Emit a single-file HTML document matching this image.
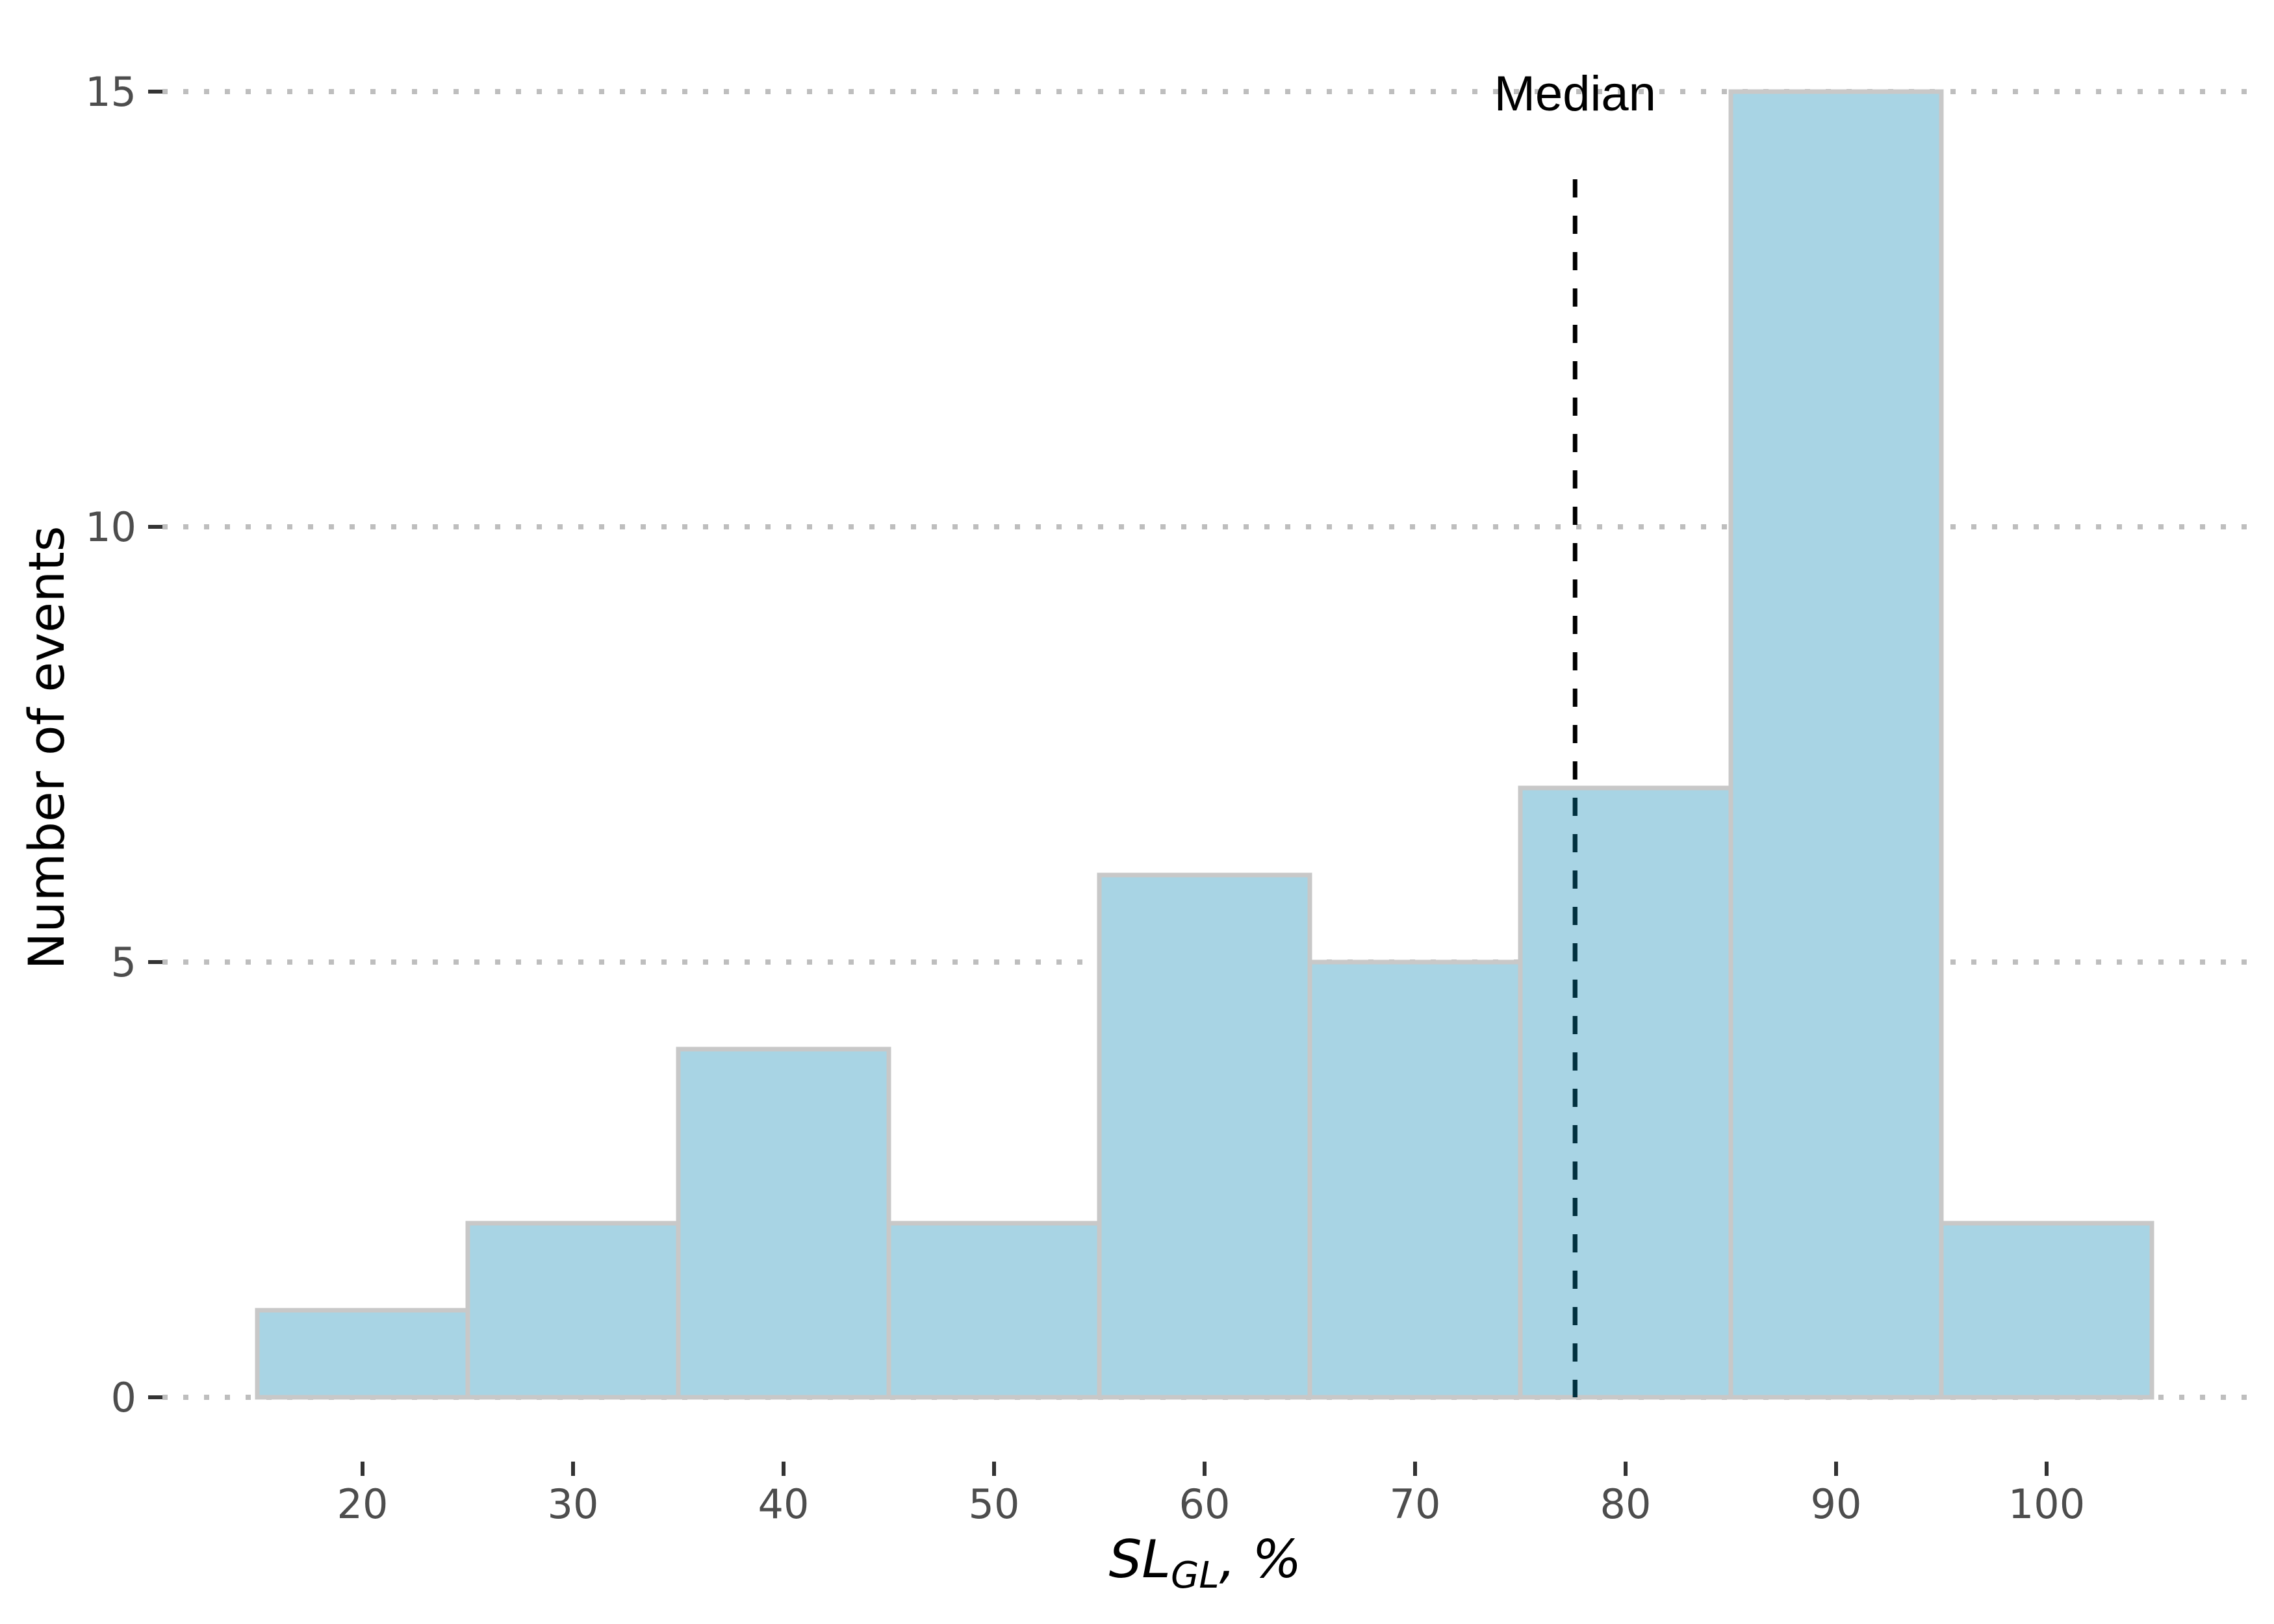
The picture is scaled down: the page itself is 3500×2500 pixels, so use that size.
<!DOCTYPE html>
<html><head><meta charset="utf-8"><style>
html,body{margin:0;padding:0;background:#fff;}
svg{display:block;}
</style></head><body>
<svg id="chart" width="3500" height="2500" viewBox="0 0 3500 2500" xmlns="http://www.w3.org/2000/svg">
<g id="grid"></g>
<g id="yaxis"></g>
<g id="xaxis"></g>
<g id="bars"></g>
<g id="median"></g>
<text transform="translate(98,1151) rotate(-90)" text-anchor="middle" font-family="DejaVu Sans, sans-serif" font-size="76" fill="#000">Number of events</text>
<text x="1855" y="2428" text-anchor="middle" font-family="DejaVu Sans, sans-serif" font-size="80" font-style="italic" fill="#000">SL<tspan font-size="56" dy="16">GL</tspan><tspan dy="-16">, %</tspan></text>
</svg>
<script>
const binStarts = [15, 25, 35, 45, 55, 65, 75, 85, 95];
const binWidth = 10;
const counts = [1, 2, 4, 2, 6, 5, 7, 15, 2];
const yTicks = [0, 5, 10, 15];
const xTicks = [20, 30, 40, 50, 60, 70, 80, 90, 100];
const medianValue = 77.6;
const medianLabel = "Median";

const NS = "http://www.w3.org/2000/svg";
function xs(v){ return 2340 + (v - 75) * 32.4; }
function ys(v){ return 2151 - v * 134; }
function mk(tag, attrs, parent){
  const e = document.createElementNS(NS, tag);
  for (const k in attrs) e.setAttribute(k, attrs[k]);
  parent.appendChild(e);
  return e;
}
const grid = document.getElementById('grid');
const yaxis = document.getElementById('yaxis');
const xaxis = document.getElementById('xaxis');
const bars = document.getElementById('bars');
const med = document.getElementById('median');

yTicks.forEach(t => {
  const y = ys(t);
  const g = mk('line', {x1:250, x2:3480, y1:y, y2:y, stroke:'#bebebe', 'stroke-width':8, 'stroke-dasharray':'8 24'}, grid);
  
  
  const tk = mk('line', {x1:228, x2:250, y1:y, y2:y, stroke:'#333', 'stroke-width':6}, yaxis);
  
  
  const lb = mk('text', {x:210, y:y + 22, 'text-anchor':'end', 'font-family':'DejaVu Sans, sans-serif', 'font-size':62, fill:'#4d4d4d'}, yaxis);
  lb.textContent = t;
  
  
});

xTicks.forEach(t => {
  const x = xs(t);
  const tk = mk('line', {x1:x, x2:x, y1:2250, y2:2272, stroke:'#333', 'stroke-width':6}, xaxis);
  
  
  const lb = mk('text', {x:x, y:2337, 'text-anchor':'middle', 'font-family':'DejaVu Sans, sans-serif', 'font-size':62, fill:'#4d4d4d'}, xaxis);
  lb.textContent = t;
  
  
});

counts.forEach((c, i) => {
  const x0 = xs(binStarts[i]), x1 = xs(binStarts[i] + binWidth);
  const r = mk('rect', {x:x0, y:ys(c), width:x1 - x0, height:ys(0) - ys(c), fill:'#a8d4e4', stroke:'#c8c8c8', 'stroke-width':7}, bars);
  
  
});

// median line: black above bars, dark teal where it overlaps a bar
const mx = xs(medianValue);
let barTop = ys(0);
binStarts.forEach((b, i) => { if (medianValue >= b && medianValue < b + binWidth) barTop = ys(counts[i]); });
const ml = mk('line', {x1:mx, x2:mx, y1:276, y2:ys(0), stroke:'#000', 'stroke-width':7, 'stroke-dasharray':'28 28'}, med);


const cp = mk('clipPath', {id:'medclip'}, med);
mk('rect', {x:mx - 10, y:barTop, width:20, height:ys(0) - barTop}, cp);
const ml2 = mk('line', {x1:mx, x2:mx, y1:276, y2:ys(0), stroke:'#00303f', 'stroke-width':7, 'stroke-dasharray':'28 28', 'clip-path':'url(#medclip)'}, med);



const mt = mk('text', {x:mx, y:170, 'text-anchor':'middle', 'font-family':'Liberation Sans, sans-serif', 'font-size':76, fill:'#000'}, med);
mt.textContent = medianLabel;


</script>
</body></html>
